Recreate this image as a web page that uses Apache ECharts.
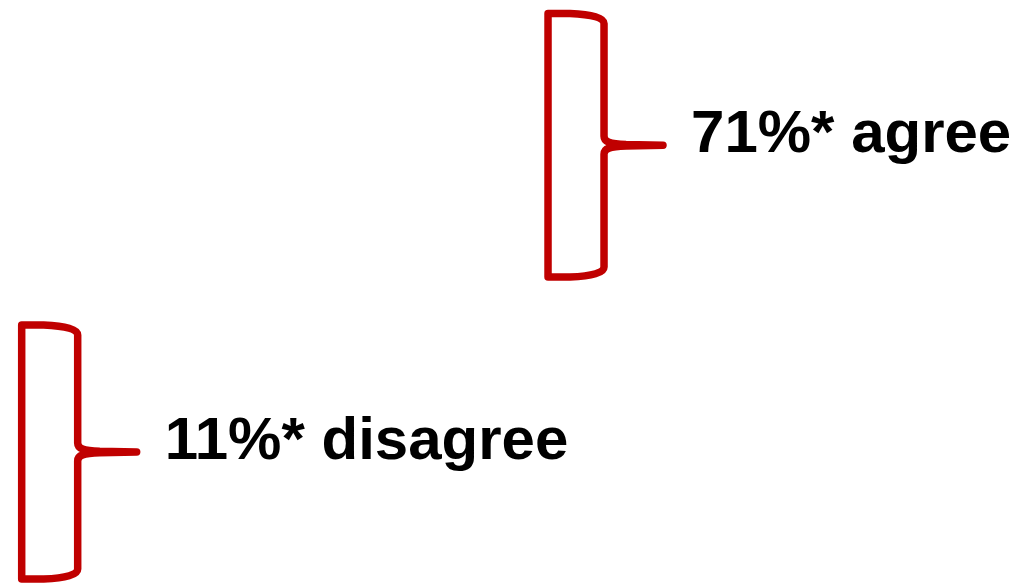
<!DOCTYPE html>
<html>
<head>
<meta charset="utf-8">
<script src="https://cdn.jsdelivr.net/npm/echarts@6/dist/echarts.min.js"></script>
<style>
html,body{margin:0;padding:0;background:#fff;}
#chart{width:1023px;height:583px;}
</style>
</head>
<body>
<div id="chart"></div>
<script>
// Data
const categories = ['agree', 'disagree'];
const percents = [71, 11];
// bracket spans on a 0-100 layout scale (x: left edge; y: top and bottom)
const bracketLeft = [53.57, 2.12];
const bracketTop = [2.32, 55.75];
const bracketBottom = [47.51, 99.31];

const seriesData = categories.map((c, i) => [bracketLeft[i], bracketTop[i], bracketBottom[i], percents[i], c]);

const chart = echarts.init(document.getElementById('chart'), null, {renderer: 'canvas'});

function renderItem(params, api) {
  const p1 = api.coord([api.value(0), api.value(1)]);
  const p2 = api.coord([api.value(0), api.value(2)]);
  const L = p1[0], T = p1[1], B = p2[1];
  const W = 56, tip = 59;
  const R = L + W;
  const m = (T + B) / 2;
  const d = [
    'M', L, T,
    'L', L + 22, T,
    'Q', R, T + 1.5, R, T + 10,
    'L', R, m - 9,
    'C', R, m - 3, R + 6, m - 1.5, R + 22, m - 0.7,
    'L', R + tip, m,
    'L', R + 22, m + 0.7,
    'C', R + 6, m + 1.5, R, m + 3, R, m + 9,
    'L', R, B - 10,
    'Q', R, B - 1.5, L + 22, B,
    'L', L, B,
    'Z'
  ].join(' ');
  const label = api.value(3) + '%* ' + categories[params.dataIndex];
  return {
    type: 'group',
    children: [
      {
        type: 'path',
        shape: {pathData: d},
        style: {fill: 'none', stroke: '#C00000', lineWidth: 7.5, lineJoin: 'round', lineCap: 'round'}
      },
      {
        type: 'text',
        x: R + tip + 28,
        y: m - 10,
        style: {
          text: label,
          fill: '#000',
          font: 'bold 60px "Liberation Sans", Arial, sans-serif',
          textAlign: 'left',
          textVerticalAlign: 'middle'
        }
      }
    ]
  };
}

chart.setOption({
  animation: false,
  grid: {left: 0, right: 0, top: 0, bottom: 0},
  xAxis: {type: 'value', min: 0, max: 100, show: false},
  yAxis: {type: 'value', min: 0, max: 100, inverse: true, show: false},
  series: [{
    type: 'custom',
    renderItem: renderItem,
    data: seriesData,
    clip: false
  }]
});
</script>
</body>
</html>
